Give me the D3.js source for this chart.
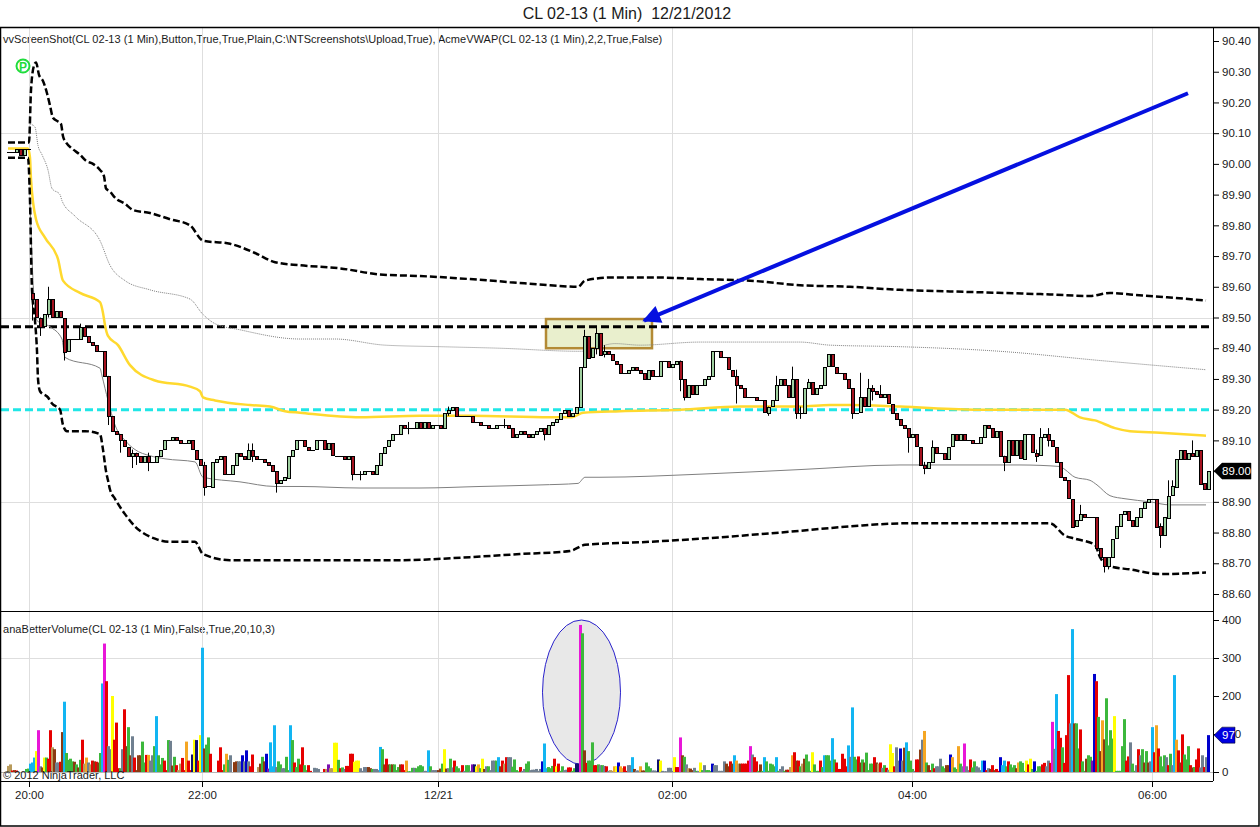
<!DOCTYPE html>
<html>
<head>
<meta charset="utf-8">
<script src="https://cdn.jsdelivr.net/npm/d3@7"></script>
<style>
    body {margin: 0; background: white;}
    text {font-family: "Liberation Sans", Arial, sans-serif; fill: #1a1a1a;}
    .axis text {font-size: 11.5px;}
    .axis line {stroke: black;}
    .axis path {display: none;}
    .grid {stroke: #dedede; stroke-width: 1;}
    .band {fill: none; stroke: black; stroke-width: 2.5; stroke-dasharray: 7 3;}
    .vwap {fill: none; stroke: #ffd92e; stroke-width: 2.5;}
    .thin {fill: none; stroke: #808080; stroke-width: 1;}
    .dotted {stroke-dasharray: 1 1;}
</style>
</head>
<body>
<svg class="chart"></svg>
<script>
//DATA
const priceTicks = [90.4,90.3,90.2,90.1,90,89.9,89.8,89.7,89.6,89.5,89.4,89.3,89.2,89.1,89,88.9,88.8,88.7,88.6];
const priceGrid = [90.1,89.5,88.9];
const volumeTicks = [400,300,200,100,0];
const volumeGrid = [300];
const timeTicks = [10.5,97,215,332,452,572];
const timeLabels = ['20:00','22:00','12/21','02:00','04:00','06:00'];

const supportLevel = 89.2;
const resistLevel = 89.47;

const preCloses = [90.04,90.04,90.05,90.03,90.05,90.05];
const closes = [
    89.56,89.50,89.47,89.51,89.56,89.50,89.52,89.50,89.39,89.43,
    89.43,89.43,89.47,89.44,89.42,89.41,89.39,89.39,89.31,89.18,
    89.13,89.12,89.10,89.08,89.05,89.06,89.05,89.03,89.05,89.03,
    89.03,89.05,89.07,89.10,89.10,89.11,89.10,89.09,89.09,89.10,
    89.07,89.04,89.02,88.95,88.95,89.03,89.04,89.05,88.99,88.99,
    89.02,89.06,89.05,89.04,89.07,89.05,89.04,89.04,89.03,89.02,
    89.00,88.96,88.97,88.98,89.05,89.07,89.10,89.10,89.08,89.07,
    89.07,89.10,89.10,89.07,89.09,89.05,89.05,89.05,89.04,89.05,
    88.99,88.99,88.99,89.00,89.00,88.99,89.02,89.06,89.08,89.10,
    89.12,89.12,89.15,89.14,89.14,89.14,89.16,89.14,89.16,89.14,
    89.15,89.15,89.14,89.19,89.20,89.21,89.18,89.18,89.18,89.18,
    89.16,89.16,89.15,89.15,89.14,89.14,89.15,89.15,89.15,89.14,
    89.11,89.12,89.13,89.12,89.11,89.12,89.13,89.14,89.12,89.15,
    89.16,89.17,89.19,89.20,89.18,89.19,89.21,89.34,89.44,89.37,
    89.40,89.45,89.38,89.39,89.38,89.36,89.35,89.32,89.32,89.33,
    89.34,89.33,89.32,89.30,89.33,89.31,89.31,89.36,89.36,89.34,
    89.35,89.36,89.30,89.24,89.28,89.25,89.28,89.28,89.30,89.31,
    89.39,89.39,89.37,89.37,89.33,89.31,89.28,89.27,89.24,89.24,
    89.24,89.23,89.23,89.19,89.21,89.23,89.28,89.30,89.28,89.24,
    89.30,89.19,89.19,89.27,89.29,89.25,89.27,89.28,89.34,89.38,
    89.34,89.32,89.32,89.30,89.27,89.19,89.19,89.24,89.21,89.27,
    89.26,89.25,89.24,89.25,89.22,89.19,89.17,89.15,89.14,89.11,
    89.12,89.08,89.02,89.01,89.03,89.08,89.06,89.06,89.04,89.08,
    89.12,89.10,89.12,89.10,89.10,89.09,89.09,89.11,89.15,89.14,
    89.11,89.13,89.05,89.03,89.10,89.05,89.10,89.04,89.12,89.12,
    89.06,89.05,89.11,89.12,89.10,89.08,89.03,88.98,88.97,88.91,
    88.82,88.84,88.86,88.85,88.85,88.85,88.75,88.72,88.69,88.72,
    88.78,88.82,88.86,88.87,88.84,88.82,88.85,88.88,88.90,88.91,
    88.91,88.82,88.79,88.85,88.92,88.95,89.04,89.07,89.04,89.06,
    89.05,89.07,88.96,88.94,89.00
];
//bar number, high, low
const wicks = [
    [0,89.58,89.49],[2,89.50,89.44],[4,89.60,89.50],[8,89.43,89.36],[12,89.48,89.43],
    [19,89.31,89.15],[22,89.12,89.06],[25,89.07,89.01],[26,89.06,89.02],[29,89.06,89.00],
    [43,89.03,88.92],[54,89.09,89.04],[55,89.09,89.03],[61,89.00,88.93],[80,89.00,88.97],
    [82,89.00,88.97],[94,89.16,89.12],[104,89.21,89.18],[118,89.17,89.14],[128,89.13,89.10],
    [138,89.46,89.34],[141,89.47,89.38],[143,89.41,89.37],[162,89.36,89.26],[163,89.28,89.23],
    [176,89.33,89.22],[184,89.21,89.18],[186,89.31,89.28],[190,89.34,89.26],[191,89.21,89.17],
    [192,89.21,89.17],[194,89.30,89.29],[205,89.24,89.17],[207,89.32,89.24],[209,89.30,89.24],
    [210,89.28,89.23],[212,89.28,89.24],[219,89.14,89.06],[223,89.03,88.99],[225,89.10,89.04],
    [243,89.05,89.00],[251,89.07,89.03],[252,89.14,89.10],[254,89.14,89.08],[262,88.89,88.86],
    [268,88.72,88.67],[269,88.72,88.68],[282,88.83,88.75],[284,88.97,88.88],[285,88.97,88.92],
    [290,89.10,89.05],[294,89.00,88.94]
];

//bar number, price
const upperBand = [[0,90.07],[10,90.07],[10.5,90.07],[11.5,90.24],[13,90.32],[14,90.33],[15.5,90.29],[17.5,90.27],[19.5,90.23],[21,90.19],[22.5,90.15],[24.5,90.14],[26.5,90.13],[27.5,90.09],[29,90.07],[32,90.05],[36,90.03],[39,90.01],[42.5,90.00],[46,89.98],[48,89.96],[49,89.92],[51,89.91],[53.5,89.89],[58.5,89.87],[62.5,89.85],[71,89.84],[81,89.82],[91,89.80],[97.5,89.75],[111,89.74],[123.5,89.71],[133.5,89.68],[146,89.67],[166,89.66],[186,89.64],[206,89.635],[231,89.625],[251,89.615],[271,89.605],[285,89.60],[288.5,89.62],[301,89.63],[326,89.63],[346,89.625],[371,89.62],[396,89.605],[421,89.60],[446,89.59],[471,89.585],[521,89.575],[541,89.57],[551,89.58],[561,89.575],[581,89.565],[599,89.555]];
const lowerBand = [[0,90.02],[10,90.02],[11,89.88],[12,89.59],[13.5,89.49],[14.5,89.39],[15,89.30],[16,89.26],[20,89.24],[22,89.22],[26,89.20],[27.5,89.15],[29.5,89.13],[33.5,89.13],[38.5,89.13],[46,89.12],[47.5,89.07],[49,89.00],[50,88.97],[51,88.94],[53.5,88.91],[58.5,88.86],[63.5,88.82],[73.5,88.78],[81,88.77],[93.5,88.77],[97.5,88.73],[111,88.71],[131,88.71],[166,88.71],[196,88.71],[231,88.72],[256,88.73],[281,88.74],[288.5,88.76],[321,88.77],[346,88.78],[386,88.80],[421,88.82],[448.5,88.83],[471,88.83],[521,88.83],[528.5,88.79],[533.5,88.78],[543.5,88.76],[546,88.72],[551,88.69],[561,88.68],[576,88.665],[599,88.67]];
const vwapLine = [[0,90.05],[10,90.05],[11,90.02],[11.5,89.95],[14,89.82],[18.5,89.76],[25,89.69],[27.5,89.62],[36,89.58],[46,89.55],[47.5,89.515],[48.5,89.475],[50,89.44],[55,89.41],[61,89.345],[73.5,89.295],[91,89.275],[96,89.26],[97.5,89.24],[103.5,89.23],[121,89.215],[131,89.21],[138.5,89.195],[146,89.19],[176,89.175],[206,89.18],[231,89.18],[271,89.175],[282,89.175],[287.5,89.19],[306,89.195],[336,89.20],[366,89.21],[396,89.21],[411,89.215],[421,89.215],[446,89.21],[486,89.20],[521,89.20],[528.5,89.20],[536,89.175],[543.5,89.165],[553.5,89.14],[561,89.13],[576,89.125],[599,89.115]];
const innerUpper = [[11,90.13],[13.5,90.12],[15,90.06],[17,90.03],[20,89.98],[22,89.92],[26,89.90],[27,89.88],[33.5,89.83],[46,89.75],[51,89.67],[58.5,89.62],[71,89.59],[91,89.56],[97.5,89.51],[103.5,89.48],[116,89.46],[146,89.43],[163.5,89.43],[188.5,89.41],[216,89.405],[246,89.40],[286,89.39],[303.5,89.415],[316,89.41],[346,89.42],[396,89.42],[411,89.41],[446,89.405],[496,89.39],[546,89.36],[599,89.33]];
const innerLower = [[11,89.88],[12.5,89.62],[14.5,89.49],[21,89.47],[27,89.43],[28.5,89.37],[46,89.335],[47,89.31],[50,89.23],[53.5,89.15],[58.5,89.10],[63.5,89.07],[71,89.05],[78.5,89.04],[93.5,89.03],[97.5,88.98],[116,88.965],[133.5,88.95],[146,88.95],[176,88.945],[206,88.945],[236,88.95],[266,88.955],[285,88.96],[288.5,88.98],[296,88.98],[346,88.99],[396,89.005],[446,89.02],[506,89.02],[526,89.015],[528.5,89.005],[533.5,88.98],[541,88.97],[544.5,88.955],[551,88.92],[558.5,88.91],[571,88.90],[581,88.89],[599,88.89]];

const volumes = [
    16,20,4,5,4,0,0,0,0,8,9,22,25,38,55,110,15,12,38,38,35,110,65,60,25,25,27,105,185,50,32,35,28,27,20,12,32,85,22,38,25,20,30,28,27,25,50,233,338,239,
    68,60,200,85,130,10,10,60,165,68,118,44,94,38,5,44,44,80,25,45,45,30,44,68,147,44,20,37,30,5,84,82,17,40,18,5,22,37,5,80,30,5,46,85,84,30,97,327,62,72,
    91,48,0,0,0,30,65,5,20,48,32,44,0,26,28,28,28,44,28,57,28,15,46,0,0,13,22,40,28,48,9,78,15,123,13,28,20,10,10,40,5,123,84,25,13,35,20,65,18,5,
    18,3,0,11,10,8,0,0,8,8,20,10,10,77,77,32,10,12,8,16,16,48,48,27,30,30,10,3,13,13,13,10,8,8,8,5,66,60,20,35,20,20,20,20,5,13,20,20,5,30,
    2,2,11,11,10,15,18,15,3,3,57,15,5,5,5,5,9,22,60,9,10,35,12,30,15,10,3,18,3,18,18,3,20,20,15,20,10,35,8,15,15,5,30,30,30,39,15,30,22,39,
    39,39,14,33,5,2,13,3,8,22,28,5,6,6,8,3,8,28,75,10,13,10,16,35,15,22,3,15,5,6,12,12,3,10,22,22,387,365,57,24,30,30,78,18,18,20,18,18,16,15,
    3,5,3,15,15,25,15,10,15,3,18,18,39,8,4,4,15,4,4,25,15,10,4,4,3,33,30,3,2,2,11,11,3,39,13,13,91,44,40,20,10,9,5,11,3,3,25,5,18,5,
    5,3,22,18,18,3,3,3,28,22,15,28,22,44,30,22,22,22,22,22,30,68,46,39,28,3,20,3,39,28,3,22,20,15,39,3,8,15,3,6,6,13,44,52,30,30,15,22,35,46,
    28,3,52,20,3,3,30,13,44,44,44,30,89,33,25,8,8,48,35,15,70,40,170,40,33,41,25,33,25,51,5,22,22,39,25,22,25,11,18,11,6,73,50,15,65,30,62,30,64,78,
    55,30,8,3,33,33,59,85,108,25,18,5,22,10,15,15,35,15,10,18,18,46,39,12,8,68,22,15,75,15,5,33,12,28,15,12,5,30,30,5,10,8,18,5,8,3,39,18,30,15,
    28,20,12,18,10,25,28,24,3,30,20,35,8,28,3,15,15,20,24,15,30,24,132,61,205,108,90,65,24,97,255,128,376,128,128,62,112,28,3,35,44,40,30,258,239,145,55,136,86,194,
    70,110,88,147,3,3,3,68,139,30,41,78,22,3,18,60,44,60,25,55,25,28,118,52,123,62,41,15,44,39,18,48,18,255,85,57,25,99,46,33,68,18,12,13,33,62,12,44,13,39,97
];
const volumeKinds = (
    'ttrdrrrrrggcccymsdygrrtdssrdcggggdgdgrtostrdrdgcmr' +
    'ssyrrrgsrdgdsrdddggrossgcgggrrgsdgrttrrorrkykrycdg' +
    'grrrrrrrgogssddssnsnsrrrrtdgdnvcccsggssggcgrggrrgg' +
    'rrrsssssrtvttyygrgsrrrryyyssssddgssscgdrdgdgggdrro' +
    'gggsggggsscgsssddgydsgsrggsrsggsvkyogydsgsssgcdrtr' +
    'ssggggrssggssssssnccgggryrggssrrggkkmgdrgggrrgsgsr' +
    'sttoynoorrsscdssoddgggssskyssssssyrrmdgstddsgsygsg' +
    'ggnssssssddrdcotdrrrrmsrrgdgcgggggcgssgdrtordrgtdg' +
    'ggygggrgcgggcgrrrrrrcscggrdgdggggrdtrsgrsyyrssnsdc' +
    'gggsrrdsogdrgrsssggddnoggogsmssrggssscnrsdrdrrnccg' +
    'rgggdogggyrygngggrrssrmscrrgrrrscdggrggdggvnrgdodg' +
    'gggygggggrrsggsrsgdgdscrorgggsrgscordrgggrdgrrssrsn'
).split('');
const kindColors = {r:'#e60000', c:'#12b5f2', g:'#3cb83c', y:'#ffff00', m:'#e816d8', o:'#f5a623', d:'#8b3a12', s:'#708090', n:'#0000cc', v:'#7a10b0', k:'#12126e', t:'#b89a5a'};

//INITIALIZING CANVAS
const size = {w: 1260, h: 827};
const pricePanel = {top: 27, buttom: 611, right: 1213};
const volumePanel = {top: 611, buttom: 781};
const svg = d3.select('svg.chart').attr('width', size.w).attr('height', size.h);

//scales run over bar numbers; a bar is one minute
const x = d3.scaleLinear().domain([0, 601]).range([8, 1210]);
const yPrice = d3.scaleLinear().domain([88.6, 90.4]).range([594, 41]);
const yVolume = d3.scaleLinear().domain([0, 400]).range([772, 620]);
const line = d3.line().x(d => x(d[0])).y(d => yPrice(d[1])).curve(d3.curveMonotoneX);

//TITLE AND LABELS
svg.append('text').attr('x', 627).attr('y', 19).attr('text-anchor', 'middle')
    .style('font-size', '16px').attr('xml:space', 'preserve')
    .text('CL 02-13 (1 Min)  12/21/2012');
svg.append('text').attr('x', 3).attr('y', 43).style('font-size', '11px').style('letter-spacing', '.03px')
    .text('vvScreenShot(CL 02-13 (1 Min),Button,True,True,Plain,C:\\NTScreenshots\\Upload,True), AcmeVWAP(CL 02-13 (1 Min),2,2,True,False)');
svg.append('text').attr('x', 3).attr('y', 633).style('font-size', '11px').style('letter-spacing', '.06px')
    .text('anaBetterVolume(CL 02-13 (1 Min),False,True,20,10,3)');

//GRID
svg.selectAll('line.gridX').data(timeTicks).enter().append('line')
    .attr('class', 'grid')
    .attr('x1', d => Math.round(x(d)) + .5).attr('x2', d => Math.round(x(d)) + .5)
    .attr('y1', pricePanel.top).attr('y2', volumePanel.buttom);
svg.selectAll('line.gridP').data(priceGrid).enter().append('line')
    .attr('class', 'grid')
    .attr('x1', 0).attr('x2', pricePanel.right)
    .attr('y1', d => Math.round(yPrice(d)) + .5).attr('y2', d => Math.round(yPrice(d)) + .5);
svg.selectAll('line.gridV').data(volumeGrid).enter().append('line')
    .attr('class', 'grid')
    .attr('x1', 0).attr('x2', pricePanel.right)
    .attr('y1', d => Math.round(yVolume(d)) + .5).attr('y2', d => Math.round(yVolume(d)) + .5);

//SHADED BOX AND LEVELS
svg.append('rect')
    .attr('x', x(269)).attr('width', x(322) - x(269))
    .attr('y', yPrice(89.495)).attr('height', yPrice(89.40) - yPrice(89.495))
    .attr('fill', '#e9efcd').attr('stroke', '#b38a35').attr('stroke-width', 2.5);

[[resistLevel, 'black'], [supportLevel, '#1fe6e6']].forEach(l => {
    svg.append('line')
        .attr('x1', 1).attr('x2', pricePanel.right)
        .attr('y1', yPrice(l[0])).attr('y2', yPrice(l[0]))
        .attr('stroke', l[1]).attr('stroke-width', 3).attr('stroke-dasharray', '8 4');
});

//INDICATOR LINES
svg.append('path').datum(innerUpper).attr('class', 'thin dotted').attr('d', line);
svg.append('path').datum(innerLower).attr('class', 'thin').attr('d', line);
svg.append('path').datum(vwapLine).attr('class', 'vwap').attr('d', line);
svg.append('path').datum(upperBand).attr('class', 'band').attr('d', line);
svg.append('path').datum(lowerBand).attr('class', 'band').attr('d', line);

//CANDLES
let candles = [];
preCloses.forEach((c, i) => {
    candles.push({bar: i * 2, open: i ? preCloses[i - 1] : c, close: c});
});
closes.forEach((c, i) => {
    candles.push({bar: 12 + i * 2, open: i ? closes[i - 1] : 89.58, close: c});
});

const candleG = svg.append('g');
candleG.selectAll('line').data(wicks).enter().append('line')
    .attr('x1', d => Math.round(x(12 + d[0] * 2)) + .5).attr('x2', d => Math.round(x(12 + d[0] * 2)) + .5)
    .attr('y1', d => yPrice(d[1])).attr('y2', d => yPrice(d[2]))
    .attr('stroke', 'black');
candleG.selectAll('rect').data(candles).enter().append('rect')
    .attr('x', d => Math.round(x(d.bar)) - 1 + .5)
    .attr('width', 3)
    .attr('y', d => Math.round(yPrice(Math.max(d.open, d.close))) + .5)
    .attr('height', d => Math.max(.01, Math.round(Math.abs(yPrice(d.open) - yPrice(d.close)))))
    .attr('fill', d => d.close >= d.open ? '#9fcf9f' : '#a5121f')
    .attr('stroke', 'black')
    .attr('stroke-width', 1);

//ARROW
const arrowFrom = [590, 90.23], arrowTo = [318, 89.49];
svg.append('defs').append('marker')
    .attr('id', 'head').attr('viewBox', '0 0 10 10')
    .attr('refX', 9).attr('refY', 5)
    .attr('markerWidth', 5).attr('markerHeight', 4.5)
    .attr('orient', 'auto')
    .append('path').attr('d', 'M0,0L10,5L0,10Z').attr('fill', '#0510e0');
svg.append('line')
    .attr('x1', x(arrowFrom[0])).attr('y1', yPrice(arrowFrom[1]))
    .attr('x2', x(arrowTo[0])).attr('y2', yPrice(arrowTo[1]))
    .attr('stroke', '#0510e0').attr('stroke-width', 4)
    .attr('marker-end', 'url(#head)');

//P ICON
svg.append('circle').attr('cx', 23).attr('cy', 66).attr('r', 6.5)
    .attr('fill', 'white').attr('stroke', '#1fdc3c').attr('stroke-width', 2);
svg.append('text').attr('x', 23).attr('y', 70.5).attr('text-anchor', 'middle')
    .style('font-size', '12px').style('font-weight', 'bold').style('fill', '#1fdc3c').text('P');

//VOLUME
svg.append('ellipse')
    .attr('cx', x(286.75)).attr('cy', yVolume(210))
    .attr('rx', x(306.25) - x(286.75)).attr('ry', yVolume(20) - yVolume(210))
    .attr('fill', '#e8e8e8').attr('stroke', '#2a22cc').attr('stroke-width', 1);

svg.append('line').attr('x1', 0).attr('x2', pricePanel.right)
    .attr('y1', yVolume(0) + .5).attr('y2', yVolume(0) + .5).attr('stroke', '#b5b5b5');

svg.append('g').selectAll('rect').data(volumes).enter().append('rect')
    .attr('x', (d, i) => Math.round(x(i)) - 1)
    .attr('width', 3)
    .attr('y', d => yVolume(d))
    .attr('height', d => yVolume(0) - yVolume(d))
    .attr('fill', (d, i) => kindColors[volumeKinds[i]]);

svg.append('text').attr('x', 3).attr('y', 779).style('font-size', '11px')
    .text('\u00a9 2012 NinjaTrader, LLC');

//FRAME
svg.append('rect').attr('x', .5).attr('y', 27.5).attr('width', size.w - 1.5).attr('height', size.h - 28.5)
    .attr('fill', 'none').attr('stroke', 'black').attr('stroke-width', 1.5);
svg.append('line').attr('x1', pricePanel.right + .5).attr('x2', pricePanel.right + .5)
    .attr('y1', pricePanel.top).attr('y2', volumePanel.buttom).attr('stroke', 'black');
svg.append('line').attr('x1', 0).attr('x2', pricePanel.right)
    .attr('y1', pricePanel.buttom + .5).attr('y2', pricePanel.buttom + .5).attr('stroke', 'black');
svg.append('line').attr('x1', 0).attr('x2', pricePanel.right)
    .attr('y1', volumePanel.buttom + .5).attr('y2', volumePanel.buttom + .5).attr('stroke', 'black');

//AXES
svg.append('g').attr('class', 'axis')
    .attr('transform', `translate(${pricePanel.right},0)`)
    .call(d3.axisRight(yPrice).tickValues(priceTicks).tickFormat(d3.format('.2f')).tickSize(6).tickPadding(3));
svg.append('g').attr('class', 'axis')
    .attr('transform', `translate(${pricePanel.right},0)`)
    .call(d3.axisRight(yVolume).tickValues(volumeTicks).tickSize(6).tickPadding(3));
svg.append('g').attr('class', 'axis')
    .attr('transform', `translate(0,${volumePanel.buttom})`)
    .call(d3.axisBottom(x).tickValues(timeTicks).tickFormat((d, i) => timeLabels[i]).tickSize(6).tickPadding(4));

//LAST VALUE TAGS
function lastTag(yPos, right, fill, label){
    svg.append('path')
        .attr('d', d3.line()([[pricePanel.right + 1, yPos], [pricePanel.right + 9, yPos - 8], [right, yPos - 8], [right, yPos + 8], [pricePanel.right + 9, yPos + 8]]) + 'Z')
        .attr('fill', fill).attr('stroke', 'black').attr('stroke-width', .5);
    svg.append('text').attr('x', (pricePanel.right + 9 + right) / 2).attr('y', yPos + 4)
        .attr('text-anchor', 'middle').style('font-size', '11.5px').style('fill', 'white')
        .text(label);
}
lastTag(yPrice(closes[closes.length - 1]), 1251, 'black', d3.format('.2f')(closes[closes.length - 1]));
lastTag(yVolume(volumes[volumes.length - 1]), 1235, '#0000e0', volumes[volumes.length - 1]);
</script>
</body>
</html>
